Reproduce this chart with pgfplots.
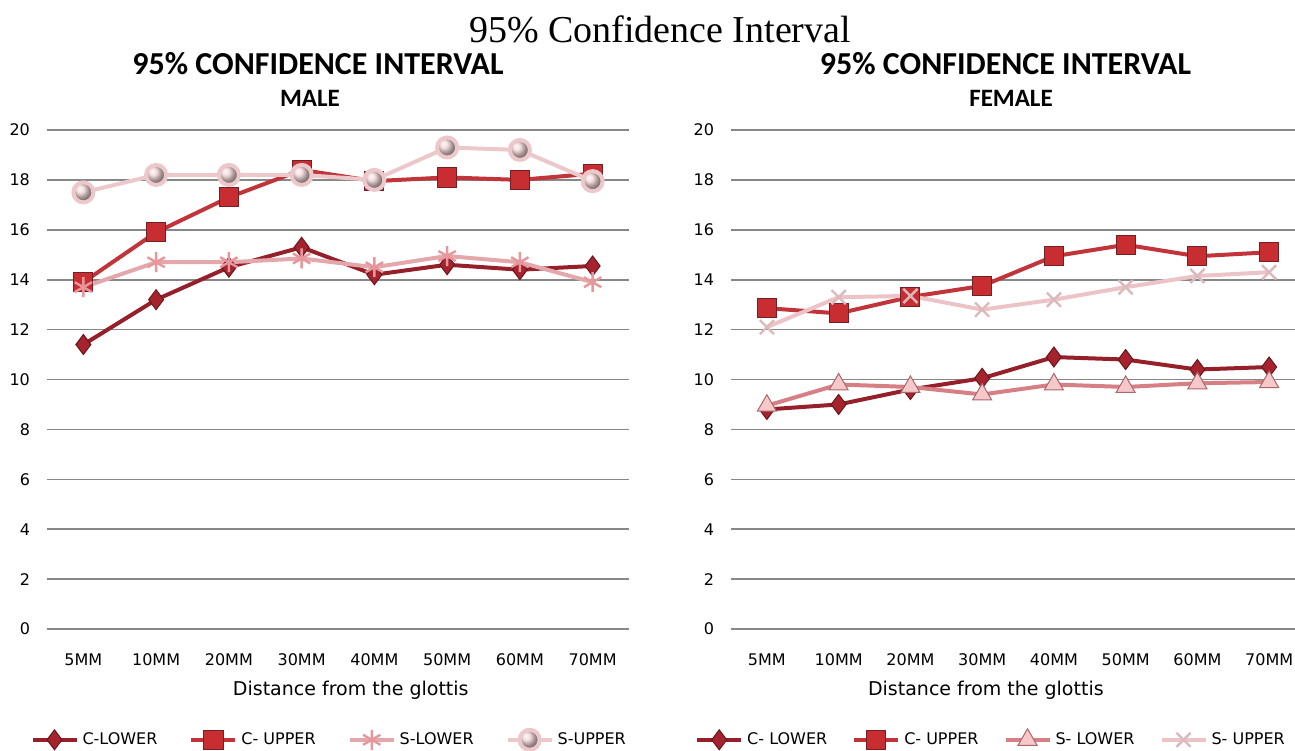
\documentclass[border=0pt]{standalone}
\usepackage{fontspec}
\setmainfont{DejaVu Sans}
\newfontfamily\titlefont{Liberation Serif}
\newfontfamily\subfont{Carlito}
\usepackage{pgfplots}
\pgfplotsset{compat=1.18}

\definecolor{clower}{RGB}{150,32,42}
\definecolor{clowerm}{RGB}{165,35,45}
\definecolor{cupper}{RGB}{192,52,58}
\definecolor{cupperm}{RGB}{200,45,50}
\definecolor{slowerL}{RGB}{228,168,172}
\definecolor{supperL}{RGB}{236,200,202}
\definecolor{slowerR}{RGB}{214,128,134}
\definecolor{slowerRm}{RGB}{246,200,202}
\definecolor{supperR}{RGB}{236,196,199}
\definecolor{gridc}{RGB}{135,135,135}

\pgfplotsset{
  chartbase/.style={
    scale only axis,
    height=249.5pt,
    ymin=0, ymax=20,
    xmin=-0.5, xmax=7.5,
    ytick={0,2,...,20},
    xtick={0,...,7},
    xticklabels={5MM,10MM,20MM,30MM,40MM,50MM,60MM,70MM},
    axis line style={draw=none},
    major tick length=0pt,
    ymajorgrids,
    grid style={gridc, line width=0.8pt},
    tick label style={font=\fontsize{8}{9}\selectfont},
    /pgf/number format/assume math mode=true,
    yticklabel style={xshift=-5pt},
    xticklabel style={yshift=-9pt},
    label style={font=\fontsize{9.5}{11}\selectfont},
    xlabel={Distance from the glottis},
    legend columns=4,
    legend cell align=left,
    legend style={draw=none, fill=none, font=\fontsize{8}{9}\selectfont,
      inner sep=0pt},
    legend image code/.code={\draw[mark repeat=2,mark phase=2,#1] plot coordinates {(0pt,0pt) (11pt,0pt) (22pt,0pt)};},
  },
  clowerS/.style={color=clower, line width=2pt, mark=diamond*, mark size=5pt,
    mark options={solid, fill=clowerm, draw=clower!70!black, line width=0.5pt}},
  cupperS/.style={color=cupper, line width=2pt, mark=square*, mark size=4.8pt,
    mark options={solid, fill=cupperm, draw=cupper!60!black, line width=0.5pt}},
}

\begin{document}
\begin{tikzpicture}
\path[use as bounding box] (0pt,0pt) rectangle (647.5pt,-375pt);

\node[anchor=base, font=\titlefont\fontsize{19}{22}\selectfont] at (330pt,-21pt) {95\% Confidence Interval};
\node[anchor=base, font=\subfont\bfseries\fontsize{16}{18}\selectfont] at (159pt,-37pt) {95\% CONFIDENCE INTERVAL};
\node[anchor=base, font=\subfont\bfseries\fontsize{12.5}{14}\selectfont] at (155pt,-53pt) {MALE};
\node[anchor=base, font=\subfont\bfseries\fontsize{16}{18}\selectfont] at (502.75pt,-37pt) {95\% CONFIDENCE INTERVAL};
\node[anchor=base, font=\subfont\bfseries\fontsize{12.5}{14}\selectfont] at (505.5pt,-53pt) {FEMALE};

% MALE
\begin{axis}[chartbase,
  at={(23.5pt,-314.5pt)}, anchor=south west,
  width=291pt,
  xlabel style={at={(axis description cs:0.522,-0.122)}, anchor=center},
  legend style={at={(axis description cs:-0.029,-0.222)}, anchor=west,
    /tikz/every even column/.append style={column sep=14pt}},
]
\addplot[clowerS] coordinates {(0,11.4) (1,13.2) (2,14.5) (3,15.3) (4,14.2) (5,14.6) (6,14.4) (7,14.55)};
\addlegendentry{C-LOWER}
\addplot[cupperS] coordinates {(0,13.9) (1,15.9) (2,17.3) (3,18.4) (4,17.95) (5,18.1) (6,18.0) (7,18.25)};
\addlegendentry{C- UPPER}
\addplot[color=slowerL, line width=2pt, mark=asterisk, mark size=5pt,
  mark options={solid, line width=1.2pt, draw=slowerL!90!red}]
  coordinates {(0,13.7) (1,14.7) (2,14.7) (3,14.85) (4,14.5) (5,14.95) (6,14.7) (7,13.9)};
\addlegendentry{S-LOWER}
\addplot[color=supperL, line width=2pt, mark=ball, mark size=5pt,
  mark options={solid, ball color=supperL!80!white}]
  coordinates {(0,17.5) (1,18.2) (2,18.2) (3,18.2) (4,18.0) (5,19.3) (6,19.2) (7,17.95)};
\addlegendentry{S-UPPER}
\end{axis}

% FEMALE
\begin{axis}[chartbase,
  at={(365.5pt,-314.5pt)}, anchor=south west,
  width=287pt,
  xlabel style={at={(axis description cs:0.444,-0.122)}, anchor=center},
  legend style={at={(axis description cs:-0.063,-0.222)}, anchor=west,
    /tikz/every even column/.append style={column sep=10.5pt}},
]
\addplot[clowerS] coordinates {(0,8.8) (1,9.0) (2,9.6) (3,10.05) (4,10.9) (5,10.8) (6,10.4) (7,10.5)};
\addlegendentry{C- LOWER}
\addplot[cupperS] coordinates {(0,12.86) (1,12.65) (2,13.31) (3,13.75) (4,14.94) (5,15.4) (6,14.94) (7,15.1)};
\addlegendentry{C- UPPER}
\addplot[color=slowerR, line width=2pt, mark=triangle*, mark size=5.5pt,
  mark options={solid, fill=slowerRm, draw=slowerR!80!black, line width=0.5pt}]
  coordinates {(0,8.95) (1,9.8) (2,9.7) (3,9.4) (4,9.8) (5,9.7) (6,9.85) (7,9.9)};
\addlegendentry{S- LOWER}
\addplot[color=supperR, line width=2pt, mark=x, mark size=5pt,
  mark options={solid, line width=1.2pt, draw=supperR!85!gray}]
  coordinates {(0,12.1) (1,13.3) (2,13.35) (3,12.8) (4,13.2) (5,13.7) (6,14.15) (7,14.3)};
\addlegendentry{S- UPPER}
\end{axis}
\end{tikzpicture}
\end{document}
